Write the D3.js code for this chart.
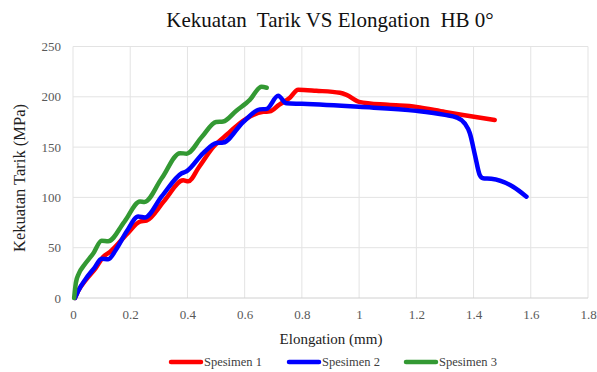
<!DOCTYPE html>
<html>
<head>
<meta charset="utf-8">
<script src="https://cdn.jsdelivr.net/npm/d3@7"></script>
<style>
  body { margin: 0; background: #fff; }
  svg text { font-family: "Liberation Serif", "Times New Roman", Times, "DejaVu Serif", serif; }
</style>
</head>
<body>
<svg id="chart" width="597" height="372"></svg>
<script>
// tick labels
var xTicks = [0, 0.2, 0.4, 0.6, 0.8, 1, 1.2, 1.4, 1.6, 1.8];
var yTicks = [0, 50, 100, 150, 200, 250];

// series names and colours
var seriesNames = ["Spesimen 1", "Spesimen 2", "Spesimen 3"];
var seriesColors = ["#ff0000", "#0000ff", "#339933"];

// Spesimen 1 (elongation mm, stress MPa)
var spesimen1 = [
  [0.007, 0], [0.02, 8], [0.045, 18], [0.08, 30], [0.106, 41], [0.13, 46],
  [0.19, 64], [0.234, 76], [0.257, 77], [0.32, 97], [0.385, 117], [0.403, 116],
  [0.44, 130], [0.49, 150], [0.54, 163], [0.583, 173.6], [0.63, 182], [0.665, 185],
  [0.688, 185.5], [0.72, 192], [0.758, 199], [0.787, 207], [0.85, 206],
  [0.933, 204], [0.956, 202], [1.0, 195], [1.1, 192], [1.2, 190], [1.3, 185],
  [1.363, 182], [1.474, 177]
];

// Spesimen 2
var spesimen2 = [
  [0.007, 0], [0.02, 8], [0.042, 18], [0.075, 30], [0.1, 39], [0.123, 38.5],
  [0.15, 48], [0.1875, 66], [0.228, 81], [0.251, 80], [0.31, 101], [0.38, 124],
  [0.397, 126], [0.455, 144], [0.502, 154], [0.525, 154.5], [0.595, 175],
  [0.653, 187.5], [0.677, 188], [0.717, 201], [0.746, 193.5], [0.8, 193],
  [1.0, 190], [1.2, 186], [1.3, 182], [1.34, 179.6], [1.369, 173.6],
  [1.387, 163.7], [1.405, 142], [1.422, 122], [1.433, 119], [1.462, 118.5],
  [1.538, 110.6], [1.585, 100.7]
];

// Spesimen 3
var spesimen3 = [
  [0.004, 0], [0.01, 15], [0.02, 24], [0.04, 33], [0.07, 44], [0.1, 57],
  [0.123, 56.5], [0.18, 76], [0.234, 96], [0.25, 95.5], [0.31, 119], [0.374, 144],
  [0.397, 143.5], [0.45, 160], [0.5, 175], [0.525, 175.5], [0.57, 186], [0.618, 197],
  [0.659, 210], [0.677, 209]
];

var allSeries = [spesimen1, spesimen2, spesimen3];

var svg = d3.select("#chart");

var xScale = d3.scaleLinear().domain([0, 1.8]).range([73, 588]);
var yScale = d3.scaleLinear().domain([0, 250]).range([298, 46.5]);

// gridlines
svg.append("g")
  .selectAll("line")
  .data(xTicks)
  .enter()
  .append("line")
  .attr("x1", function(d) { return xScale(d); })
  .attr("x2", function(d) { return xScale(d); })
  .attr("y1", yScale(0))
  .attr("y2", yScale(250))
  .attr("stroke", "#e3e3e3")
  .attr("stroke-width", 1);

svg.append("g")
  .selectAll("line")
  .data(yTicks)
  .enter()
  .append("line")
  .attr("x1", xScale(0))
  .attr("x2", xScale(1.8))
  .attr("y1", function(d) { return yScale(d); })
  .attr("y2", function(d) { return yScale(d); })
  .attr("stroke", function(d) { return d === 0 ? "#d0d0d0" : "#e3e3e3"; })
  .attr("stroke-width", 1);

// axes (labels only)
var xAxis = d3.axisBottom(xScale).tickValues(xTicks).tickSize(0).tickPadding(12)
  .tickFormat(function(d) { return String(d); });
var yAxis = d3.axisLeft(yScale).tickValues(yTicks).tickSize(0).tickPadding(12);

var gx = svg.append("g")
  .attr("transform", "translate(0," + yScale(0) + ")")
  .call(xAxis)
  .attr("font-family", null);
gx.select(".domain").remove();
gx.selectAll("text").attr("font-size", 13).attr("fill", "#595959");

var gy = svg.append("g")
  .attr("transform", "translate(" + xScale(0) + ",0)")
  .call(yAxis)
  .attr("font-family", null);
gy.select(".domain").remove();
gy.selectAll("text").attr("font-size", 13).attr("fill", "#595959");

// lines
var line = d3.line()
  .x(function(d) { return xScale(d[0]); })
  .y(function(d) { return yScale(d[1]); })
  .curve(d3.curveMonotoneX);

allSeries.forEach(function(s, i) {
  svg.append("path")
    .datum(s)
    .attr("fill", "none")
    .attr("stroke", seriesColors[i])
    .attr("stroke-width", 4.5)
    .attr("stroke-linejoin", "round")
    .attr("stroke-linecap", "round")
    .attr("d", line);
});

// title
svg.append("text")
  .attr("x", 330)
  .attr("y", 27)
  .attr("text-anchor", "middle")
  .attr("font-size", 21)
  .attr("fill", "#111")
  .style("white-space", "pre")
  .text("Kekuatan  Tarik VS Elongation  HB 0°");

// axis titles
svg.append("text")
  .attr("x", 331)
  .attr("y", 344)
  .attr("text-anchor", "middle")
  .attr("font-size", 15)
  .attr("fill", "#222")
  .text("Elongation (mm)");

svg.append("text")
  .attr("transform", "translate(25,178) rotate(-90)")
  .attr("text-anchor", "middle")
  .attr("font-size", 16.5)
  .attr("fill", "#222")
  .text("Kekuatan Tarik (MPa)");

// legend
var legendX = [169, 287, 404];
var legend = svg.append("g");
seriesNames.forEach(function(name, i) {
  legend.append("line")
    .attr("x1", legendX[i] + 2)
    .attr("x2", legendX[i] + 32)
    .attr("y1", 362)
    .attr("y2", 362)
    .attr("stroke", seriesColors[i])
    .attr("stroke-width", 4.5)
    .attr("stroke-linecap", "round");
  legend.append("text")
    .attr("x", legendX[i] + 35)
    .attr("y", 366)
    .attr("font-size", 12.5)
    .attr("fill", "#404040")
    .text(name);
});
</script>
</body>
</html>
